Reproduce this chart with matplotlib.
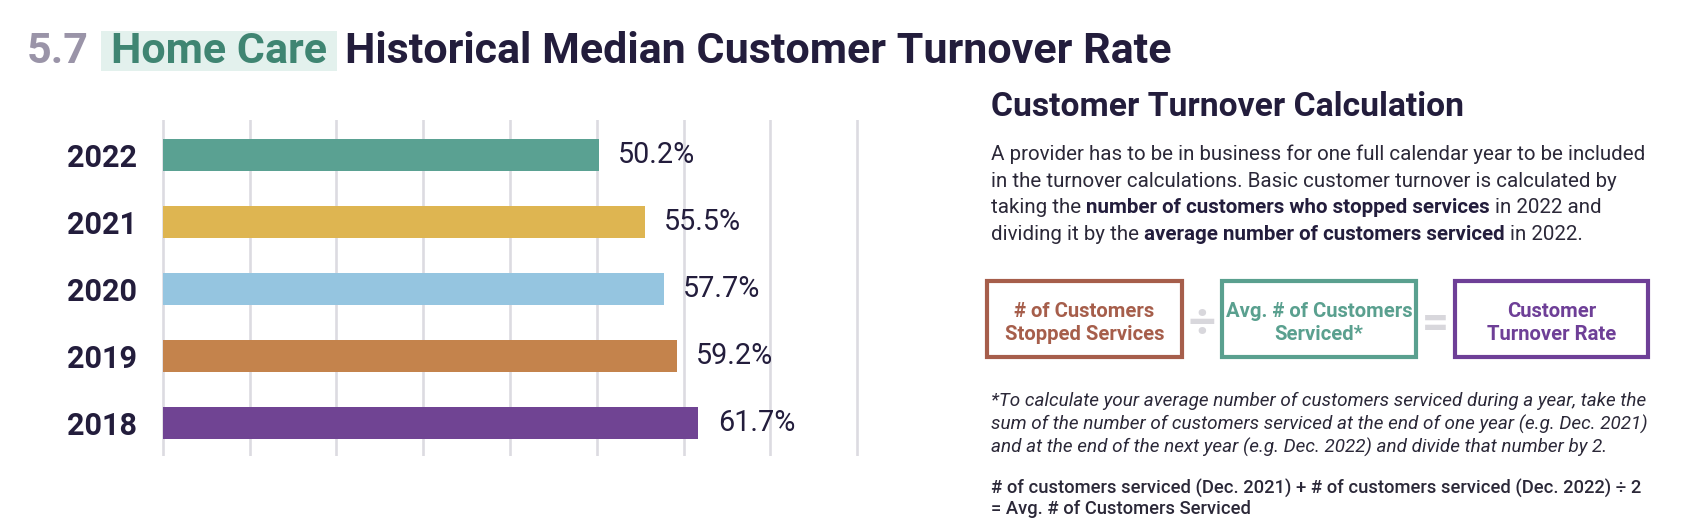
import matplotlib
matplotlib.use('Agg')
import matplotlib.pyplot as plt
from matplotlib.patches import Rectangle

W, H = 1704, 528
FONT = ['Roboto', 'DejaVu Sans']
plt.rcParams['font.family'] = FONT

# ---------------- data ----------------
years = ['2018', '2019', '2020', '2021', '2022']
rates = [61.7, 59.2, 57.7, 55.5, 50.2]
bar_colors = ['#704493', '#c4834c', '#95c5e0', '#deb551', '#5aa192']
grid_ticks = [0, 10, 20, 30, 40, 50, 60, 70, 80]

title_num = '5.7'
title_tag = 'Home Care'
title_main = 'Historical Median Customer Turnover Rate'
side_head = 'Customer Turnover Calculation'
para_lines = [
    [('A provider has to be in business for one full calendar year to be included', False)],
    [('in the turnover calculations. Basic customer turnover is calculated by', False)],
    [('taking the', False), ('number of customers who stopped services', True), ('in 2022 and', False)],
    [('dividing it by the', False), ('average number of customers serviced', True), ('in 2022.', False)],
]
box_texts = ['# of Customers\nStopped Services', 'Avg. # of Customers\nServiced*', 'Customer\nTurnover Rate']
box_colors = ['#a65e4b', '#5aa08f', '#6e3f97']
operators = ['÷', '=']
foot_lines = [
    '*To calculate your average number of customers serviced during a year, take the',
    'sum of the number of customers serviced at the end of one year (e.g. Dec. 2021)',
    'and at the end of the next year (e.g. Dec. 2022) and divide that number by 2.',
]
formula_lines = [
    '# of customers serviced (Dec. 2021) + # of customers serviced (Dec. 2022) ÷ 2',
    '= Avg. # of Customers Serviced',
]

DARK = '#231d3c'
TEXT = '#2b2838'
GRID = '#dcdbe1'

fig = plt.figure(figsize=(W / 100, H / 100), dpi=100)
fig.patch.set_facecolor('white')

# ---------------- overlay (pixel coords) for measuring ----------------
ov = fig.add_axes([0, 0, 1, 1])
ov.set_xlim(0, W)
ov.set_ylim(H, 0)
ov.axis('off')
r = fig.canvas.get_renderer()


def width(t):
    return t.get_window_extent(renderer=r).width


def fit(s, target, **kw):
    t = ov.text(0, 0, s, fontsize=20, **kw)
    w = width(t)
    t.remove()
    return 20 * target / w


def space_w(size, **kw):
    a = ov.text(0, 0, 'a a', fontsize=size, **kw)
    b = ov.text(0, 0, 'aa', fontsize=size, **kw)
    d = width(a) - width(b)
    a.remove(); b.remove()
    return d


# ---------------- bar chart ----------------
x0px, pxu = 162.8, 8.68
xmin, xmax = -0.5, 80.5
left = x0px + xmin * pxu
right = x0px + xmax * pxu
top, bot = 120, 456
ax = fig.add_axes([left / W, 1 - bot / H, (right - left) / W, (bot - top) / H])
ypos = list(range(len(years)))
bars = ax.barh(ypos, rates, height=0.47, color=bar_colors, zorder=3)
ax.set_xlim(xmin, xmax)
ax.set_ylim(-0.49, 4.52)
ax.set_xticks(grid_ticks)
ax.xaxis.grid(True, color=GRID, lw=1.9, zorder=0)
ax.set_axisbelow(True)
ax.tick_params(axis='x', length=0, labelbottom=False)
year_size = fit('2022', 70, fontweight='bold')
ax.set_yticks(ypos, years)
ax.tick_params(axis='y', length=0, pad=(left - 137) * 72 / 100)
for lab in ax.get_yticklabels():
    lab.set_fontweight('bold')
    lab.set_fontsize(year_size)
    lab.set_color(DARK)
for s in ax.spines.values():
    s.set_visible(False)
ax.patch.set_alpha(0)
val_size = fit('50.2%', 77)
ax.bar_label(bars, labels=[f'{v}%' for v in rates], padding=14, fontsize=val_size, color=DARK)

# bring overlay on top
ov.set_zorder(5)

# ---------------- title ----------------
ts = fit(title_main, 823, fontweight='bold')
ov.text(345, 63, title_main, fontsize=ts, fontweight='bold', color=DARK, va='baseline')
ov.text(27, 63, title_num, fontsize=ts, fontweight='bold', color='#9a94a8', va='baseline')
ov.add_patch(Rectangle((101, 30.5), 236, 40, facecolor='#e3f1ed', edgecolor='none', zorder=0))
ov.text(219, 63, title_tag, fontsize=ts, fontweight='bold', color='#3f8572', va='baseline', ha='center', zorder=2)

# ---------------- right panel ----------------
X0 = 991
hs = fit(side_head, 470, fontweight='bold')
ov.text(X0, 116, side_head, fontsize=hs, fontweight='bold', color=DARK, va='baseline')

ps = fit(para_lines[0][0][0], 653)
sp = space_w(ps)
for i, segs in enumerate(para_lines):
    y = 160 + i * 26.6
    cur = X0
    for txt, bold in segs:
        t = ov.text(cur, y, txt, fontsize=ps, fontweight='bold' if bold else 'normal',
                    color=DARK if bold else TEXT, va='baseline')
        cur += width(t) + sp

# boxes
box_x = [(987, 1182), (1222, 1416), (1455, 1648)]
by0, by1 = 281, 357
bs = fit('Stopped Services', 159, fontweight='bold')
for (a, b), txt, col in zip(box_x, box_texts, box_colors):
    ov.add_patch(Rectangle((a, by0), b - a, by1 - by0, facecolor='none', edgecolor=col, lw=3.0))
    l1, l2 = txt.split('\n')
    cx = (a + b) / 2
    ov.text(cx, 317, l1, fontsize=bs, fontweight='bold', color=col, ha='center', va='baseline')
    ov.text(cx, 340, l2, fontsize=bs, fontweight='bold', color=col, ha='center', va='baseline')

op_x = [1201.5, 1435]
for ox, op in zip(op_x, operators):
    ov.text(ox, 319, op, fontsize=34, fontweight='bold', color='#d8d7dc', ha='center', va='center_baseline')

fs = fit(foot_lines[0], 655, fontstyle='italic')
for i, line in enumerate(foot_lines):
    ov.text(X0, 406 + i * 23.4, line, fontsize=fs, fontstyle='italic', color=TEXT, va='baseline')

ms = fit(formula_lines[0], 650, fontweight='medium')
for i, line in enumerate(formula_lines):
    ov.text(X0, 493.5 + i * 20, line, fontsize=ms, fontweight='medium', color=TEXT, va='baseline')

fig.savefig('out.png', dpi=100, facecolor='white')
